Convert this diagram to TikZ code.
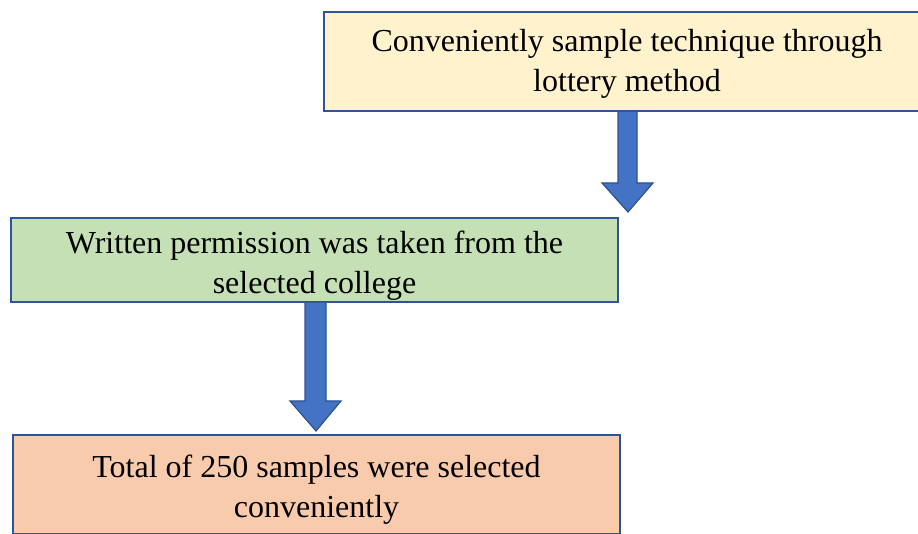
\documentclass[tikz,border=0pt]{standalone}
\usepackage{fontspec}
\setmainfont{Liberation Serif}
\usetikzlibrary{calc}
\definecolor{boxline}{HTML}{2F5597}
\definecolor{fillA}{HTML}{FFF2CC}
\definecolor{fillB}{HTML}{C5E0B4}
\definecolor{fillC}{HTML}{F8CBAD}
\definecolor{arrfill}{HTML}{4472C4}
\definecolor{arrline}{HTML}{2F528F}
\tikzset{
  flowbox/.style={draw=boxline, line width=2pt, minimum width=607pt, inner sep=0pt},
  boxtext/.style={align=center, font=\fontsize{32}{40}\selectfont, inner sep=0pt},
  bigarrow/.style={fill=arrfill, draw=arrline, line width=1.2pt, line join=miter}
}
\begin{document}
\begin{tikzpicture}[x=1pt,y=1pt]
\useasboundingbox (0,0) rectangle (918,533);
\begin{scope}
\clip (0,0) rectangle (918,533);
\node[flowbox, fill=fillA, minimum height=99pt] (b1) at (627,471.5) {};
\node[boxtext] (t1) at ($(b1.center)+(0,-2)$)
  {Conveniently sample technique through\\lottery method};
\node[flowbox, fill=fillB, minimum height=84pt] (b2) at (314.5,273) {};
\node[boxtext] (t2) at ($(b2.center)+(0,-6)$)
  {Written permission was taken from the\\selected college};
\node[flowbox, fill=fillC, minimum height=99pt] (b3) at (316.5,48.5) {};
\node[boxtext] (t3) at ($(b3.center)+(0,-5)$)
  {Total of 250 samples were selected\\conveniently};
% arrow 1
\draw[bigarrow] ($(b1.south)+(-9,0)$) -- ++(0,-71) -- ++(-16,0)
  -- ($(b2.north -| b1.south)+(1,5)$) -- ($(b1.south)+(26,-71)$) -- ++(-16,0)
  -- ($(b1.south)+(10,0)$);
% arrow 2
\draw[bigarrow] ($(b2.south)+(-9.5,0)$) -- ++(0,-98) -- ++(-15,0)
  -- ($(b3.north -| b2.south)+(1.5,3)$) -- ($(b2.south)+(26.5,-98)$) -- ++(-15,0)
  -- ($(b2.south)+(11.5,0)$);
\end{scope}
\end{tikzpicture}
\end{document}
